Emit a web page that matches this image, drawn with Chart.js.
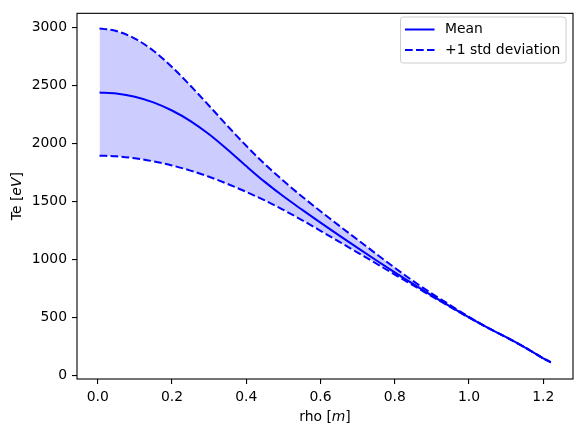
<!DOCTYPE html>
<html>
<head>
<meta charset="utf-8">
<script src="https://cdn.jsdelivr.net/npm/chart.js@4/dist/chart.umd.min.js"></script>
<style>
  body { margin: 0; background: #fff; }
  canvas { display: block; }
</style>
</head>
<body>
<canvas id="teChart" width="582" height="435"></canvas>
<script>
// rho [m] sample points
const rho = [0.005, 0.05, 0.1, 0.15, 0.2, 0.25, 0.3, 0.35, 0.4, 0.45, 0.5, 0.55, 0.6,
    0.65, 0.7, 0.75, 0.8, 0.85, 0.9, 0.95, 1.0, 1.05, 1.1, 1.15, 1.2, 1.22];
const teMean = [2440, 2431, 2404, 2355, 2285, 2194, 2080, 1947, 1806, 1670, 1546, 1431, 1319,
    1209, 1101, 995, 891, 790, 691, 595, 502, 414, 332, 245, 150, 116];
const teUpper = [2992, 2970, 2905, 2800, 2660, 2498, 2326, 2151, 1981, 1823, 1679, 1545, 1417,
    1293, 1172, 1050, 930, 815, 708, 607, 507, 414, 332, 245, 150, 116];
const teLower = [1896, 1890, 1873, 1847, 1812, 1767, 1714, 1652, 1584, 1510, 1429, 1341, 1249,
    1155, 1061, 967, 872, 778, 684, 592, 500, 414, 332, 245, 150, 116];
const xTicks = [0, 0.2, 0.4, 0.6, 0.8, 1.0, 1.2];
const yTicks = [0, 500, 1000, 1500, 2000, 2500, 3000];

const FONT = 'DejaVu Sans';
const toPts = (ys) => rho.map((x, i) => ({ x: x, y: ys[i] }));

// frame, mixed-style axis titles and matplotlib-like legend
const decor = {
    id: 'decor',
    afterDatasetsDraw(chart) {
        const ctx = chart.ctx;
        const a = chart.chartArea;
        ctx.save();
        ctx.strokeStyle = '#000';
        ctx.lineWidth = 1.1;
        ctx.strokeRect(a.left, a.top, a.right - a.left, a.bottom - a.top);

        // legend box
        const bx = 400.5, by = 17, bw = 165.5, bh = 46, r = 3;
        ctx.beginPath();
        ctx.moveTo(bx + r, by);
        ctx.arcTo(bx + bw, by, bx + bw, by + bh, r);
        ctx.arcTo(bx + bw, by + bh, bx, by + bh, r);
        ctx.arcTo(bx, by + bh, bx, by, r);
        ctx.arcTo(bx, by, bx + bw, by, r);
        ctx.closePath();
        ctx.fillStyle = 'rgba(255,255,255,0.8)';
        ctx.fill();
        ctx.strokeStyle = '#cccccc';
        ctx.lineWidth = 1;
        ctx.stroke();

        const items = chart.data.datasets.filter(d => d.label);
        items.forEach((d, i) => {
            const y = 29.5 + i * 20.5;
            ctx.strokeStyle = d.borderColor;
            ctx.lineWidth = d.borderWidth;
            ctx.setLineDash(d.borderDash || []);
            ctx.beginPath();
            ctx.moveTo(405, y);
            ctx.lineTo(434.5, y);
            ctx.stroke();
            ctx.setLineDash([]);
            ctx.fillStyle = '#000';
            ctx.font = '13.9px "' + FONT + '"';
            ctx.textBaseline = 'middle';
            ctx.textAlign = 'left';
            ctx.fillText(d.label, 445, y);
        });

        // axis titles with italic units
        const drawMixed = (parts, cx, cy, rot) => {
            ctx.save();
            ctx.translate(cx, cy);
            ctx.rotate(rot);
            ctx.fillStyle = '#000';
            ctx.textBaseline = 'alphabetic';
            ctx.textAlign = 'left';
            let total = 0;
            parts.forEach(p => {
                ctx.font = (p[1] ? 'italic ' : '') + '13.9px "' + FONT + '"';
                total += ctx.measureText(p[0]).width;
            });
            let x = -total / 2;
            parts.forEach(p => {
                ctx.font = (p[1] ? 'italic ' : '') + '13.9px "' + FONT + '"';
                ctx.fillText(p[0], x, 5);
                x += ctx.measureText(p[0]).width;
            });
            ctx.restore();
        };
        drawMixed([['rho [', false], ['m', true], [']', false]], (a.left + a.right) / 2, 416, 0);
        drawMixed([['Te [', false], ['eV', true], [']', false]], 16, (a.top + a.bottom) / 2, -Math.PI / 2);
        ctx.restore();
    }
};

new Chart(document.getElementById('teChart').getContext('2d'), {
    type: 'line',
    data: {
        datasets: [
            {
                label: 'Mean',
                data: toPts(teMean),
                borderColor: '#0000ff',
                borderWidth: 2,
                pointRadius: 0,
                cubicInterpolationMode: 'monotone',
                fill: false
            },
            {
                label: '+1 std deviation',
                data: toPts(teUpper),
                borderColor: '#0000ff',
                borderWidth: 2,
                borderDash: [7.7, 3.3],
                pointRadius: 0,
                cubicInterpolationMode: 'monotone',
                backgroundColor: 'rgba(0,0,255,0.2)',
                fill: '+1'
            },
            {
                data: toPts(teLower),
                borderColor: '#0000ff',
                borderWidth: 2,
                borderDash: [7.7, 3.3],
                pointRadius: 0,
                cubicInterpolationMode: 'monotone',
                fill: false
            }
        ]
    },
    options: {
        responsive: false,
        animation: false,
        devicePixelRatio: 1,
        layout: { padding: { top: 11, right: 9, left: 0, bottom: 0 } },
        plugins: { legend: { display: false }, tooltip: { enabled: false } },
        scales: {
            x: {
                type: 'linear',
                min: -0.0557,
                max: 1.28,
                afterBuildTicks: s => { s.ticks = xTicks.map(v => ({ value: v })); },
                afterFit: s => { s.height = 56; },
                border: { display: false },
                grid: { drawOnChartArea: false, drawTicks: true, tickLength: 5, tickColor: '#000', lineWidth: 1.1 },
                ticks: {
                    autoSkip: false, maxRotation: 0, padding: 5, color: '#000',
                    font: { family: FONT, size: 13.9 },
                    callback: v => v.toFixed(1)
                }
            },
            y: {
                type: 'linear',
                min: -28,
                max: 3122,
                afterBuildTicks: s => { s.ticks = yTicks.map(v => ({ value: v })); },
                afterFit: s => { s.width = 77; },
                border: { display: false },
                grid: { drawOnChartArea: false, drawTicks: true, tickLength: 5, tickColor: '#000', lineWidth: 1.1 },
                ticks: {
                    autoSkip: false, padding: 5, color: '#000',
                    font: { family: FONT, size: 13.9 },
                    callback: v => String(v)
                }
            }
        }
    },
    plugins: [decor]
});
</script>
</body>
</html>
